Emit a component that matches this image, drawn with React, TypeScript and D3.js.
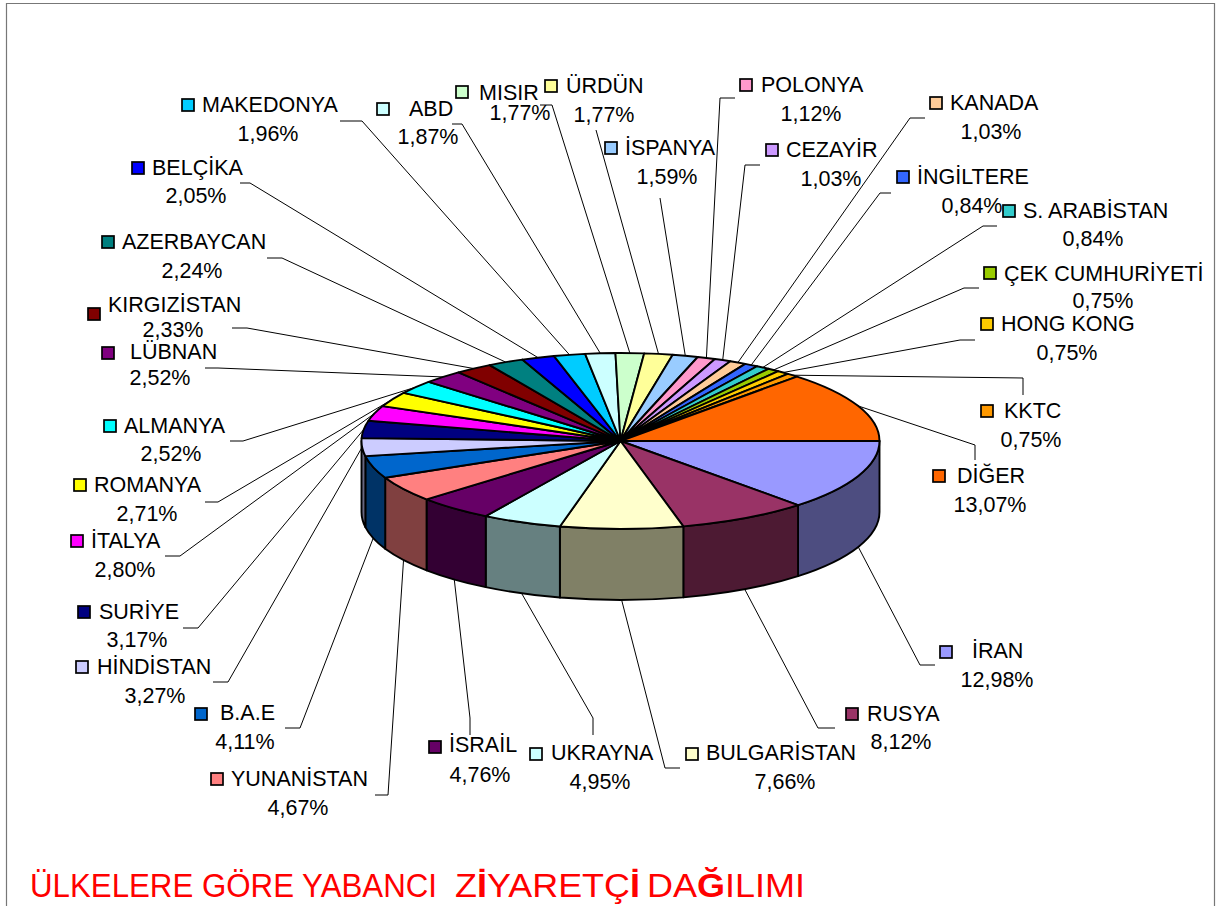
import React, { useEffect, useRef } from "react";
import * as d3 from "d3";

const countries = [
  "İRAN", "RUSYA", "BULGARİSTAN", "UKRAYNA", "İSRAİL", "YUNANİSTAN", "B.A.E", "HİNDİSTAN",
  "SURİYE", "İTALYA", "ROMANYA", "ALMANYA", "LÜBNAN", "KIRGIZİSTAN", "AZERBAYCAN", "BELÇİKA",
  "MAKEDONYA", "ABD", "MISIR", "ÜRDÜN", "İSPANYA", "POLONYA", "CEZAYİR", "KANADA",
  "İNGİLTERE", "S. ARABİSTAN", "ÇEK CUMHURİYETİ", "HONG KONG", "KKTC", "DİĞER",
];

const shares = [
  12.98, 8.12, 7.66, 4.95, 4.76, 4.67, 4.11, 3.27,
  3.17, 2.8, 2.71, 2.52, 2.52, 2.33, 2.24, 2.05,
  1.96, 1.87, 1.77, 1.77, 1.59, 1.12, 1.03, 1.03,
  0.84, 0.84, 0.75, 0.75, 0.75, 13.07,
];

const sliceColors = [
  "#9999FF", "#993366", "#FFFFCC", "#CCFFFF", "#660066", "#FF8080", "#0066CC", "#CCCCFF",
  "#000080", "#FF00FF", "#FFFF00", "#00FFFF", "#800080", "#800000", "#008080", "#0000FF",
  "#00CCFF", "#CCFFFF", "#CCFFCC", "#FFFF99", "#99CCFF", "#FF99CC", "#CC99FF", "#FFCC99",
  "#3366FF", "#33CCCC", "#99CC00", "#FFCC00", "#FF9900", "#FF6600",
];

// label placement, same order as countries:
// [swatch x, swatch y, name x, name baseline, value center x, value baseline, elbow x, elbow y, stub x, stub y]
const labelLayout = [
  [946, 652, 972, 658, 997, 687, 920, 665, 935, 665],
  [852, 714, 867, 721, 901, 749, 818, 728, 835, 728],
  [692, 754, 706, 760, 785, 789, 665, 768, 680, 768],
  [536, 754, 551, 760, 600, 789, 593, 718, 593, 735],
  [435, 747, 449, 752, 480, 782, 470, 718, 470, 735],
  [217, 779, 231, 786, 298, 815, 388, 795, 375, 795],
  [201, 714, 220, 720, 245, 749, 300, 728, 285, 728],
  [82, 667, 97, 674, 155, 703, 228, 682, 213, 682],
  [84, 612, 99, 619, 137, 647, 198, 628, 183, 628],
  [77, 541, 91, 548, 125, 577, 180, 556, 165, 556],
  [80, 485, 94, 492, 147, 521, 218, 502, 205, 502],
  [110, 426, 124, 433, 171, 461, 243, 441, 230, 441],
  [108, 353, 130, 359, 160, 385, 218, 368, 205, 368],
  [94, 314, 108, 312, 173, 337, 247, 328, 232, 328],
  [108, 242, 122, 249, 192, 278, 282, 258, 267, 258],
  [138, 168, 152, 175, 196, 203, 250, 183, 240, 183],
  [188, 105, 202, 112, 268, 141, 362, 121, 340, 121],
  [383, 109, 409, 116, 428, 144, 462, 124, 452, 124],
  [462, 92, 479, 100, 520, 120, 552, 105, 540, 105],
  [551, 86, 566, 93, 604, 122, 596, 130, 596, 130],
  [611, 148, 625, 155, 667, 184, 660, 198, 660, 198],
  [746, 85, 761, 92, 811, 121, 720, 98, 735, 98],
  [772, 150, 786, 157, 831, 186, 745, 165, 760, 165],
  [936, 103, 950, 110, 991, 139, 910, 118, 925, 118],
  [903, 177, 917, 184, 972, 213, 880, 193, 891, 193],
  [1009, 211, 1023, 218, 1093, 246, 983, 226, 997, 226],
  [990, 273, 1004, 281, 1103, 308, 964, 288, 979, 288],
  [987, 324, 1001, 331, 1067, 360, 960, 340, 975, 340],
  [987, 411, 1004, 418, 1031, 447, 1023, 378, 1023, 395],
  [939, 476, 957, 483, 990, 512, 975, 445, 975, 460],
];

// title words, each fitted to its own span; bold marks the letters the reference draws heavier
const titleWords = [
  { parts: [["ÜLKELERE GÖRE YABANCI", false]], x: 30, length: 407 },
  { parts: [["Z", false], ["İ", true], ["YARETÇ", false], ["İ", true]], x: 455, length: 185 },
  { parts: [["DA", false], ["Ğ", true], ["ILIMI", false]], x: 647, length: 158 },
];

const width = 1216;
const height = 906;
const cx = 620.5;
const cy = 441;
const rx = 259;
const ry = 88;
const depth = 71;
const labelFont = "'Liberation Sans', Arial, sans-serif";

const App: React.FC = () => {
  const svgRef = useRef<SVGSVGElement>(null);

  useEffect(() => {
    if (!svgRef.current) return;
    const svg = d3.select(svgRef.current);
    svg.selectAll("*").remove();

    // Frame
    svg
      .append("path")
      .attr("d", `M6.5,${height}V3.5H1214.5V${height}`)
      .attr("fill", "none")
      .attr("stroke", "#777")
      .attr("stroke-width", 1.2);

    // d3 angles run clockwise from north, the chart starts at 3 o'clock
    const pie = d3
      .pie<number>()
      .sort(null)
      .startAngle(Math.PI / 2)
      .endAngle(Math.PI / 2 + 2 * Math.PI);
    const slices = pie(shares);

    const px = (a: number) => cx + rx * Math.sin(a);
    const py = (a: number, dy = 0) => cy + dy - ry * Math.cos(a);

    // Side wall, only the part facing the viewer
    const frontStart = Math.PI / 2;
    const frontEnd = (3 * Math.PI) / 2;
    const wallPath = (a0: number, a1: number) =>
      `M${px(a0)},${py(a0)}` +
      `A${rx},${ry} 0 0 1 ${px(a1)},${py(a1)}` +
      `L${px(a1)},${py(a1, depth)}` +
      `A${rx},${ry} 0 0 0 ${px(a0)},${py(a0, depth)}Z`;

    const pieGroup = svg.append("g");
    pieGroup
      .selectAll("path.wall")
      .data(slices.filter((d) => d.startAngle < frontEnd))
      .join("path")
      .attr("class", "wall")
      .attr("d", (d) => wallPath(Math.max(d.startAngle, frontStart), Math.min(d.endAngle, frontEnd)))
      .attr("fill", (d) => {
        const c = d3.rgb(sliceColors[d.index]);
        return d3.rgb(c.r / 2, c.g / 2, c.b / 2).formatHex();
      })
      .attr("stroke", "#000")
      .attr("stroke-width", 1.9)
      .attr("stroke-linejoin", "round");

    pieGroup
      .selectAll("path.top")
      .data(slices)
      .join("path")
      .attr("class", "top")
      .attr("d", (d) => {
        const large = d.endAngle - d.startAngle > Math.PI ? 1 : 0;
        return (
          `M${cx},${cy}L${px(d.startAngle)},${py(d.startAngle)}` +
          `A${rx},${ry} 0 ${large} 1 ${px(d.endAngle)},${py(d.endAngle)}Z`
        );
      })
      .attr("fill", (d) => sliceColors[d.index])
      .attr("stroke", "#000")
      .attr("stroke-width", 1.9)
      .attr("stroke-linejoin", "round");

    // Leader lines start on the rim, or at the wall's foot for front slices
    const leader = d3.line();
    const leaders = svg.append("g");
    slices.forEach((d) => {
      const [, , , , , , ex, ey, sx, sy] = labelLayout[d.index];
      const mid = (d.startAngle + d.endAngle) / 2;
      const isFront = mid > frontStart && mid < frontEnd && Math.sin(mid) > -0.985;
      const start: [number, number] = [px(mid), py(mid, isFront ? depth : 0)];
      leaders
        .append("path")
        .attr("d", leader([start, [ex, ey], [sx, sy]]))
        .attr("fill", "none")
        .attr("stroke", "#000")
        .attr("stroke-width", 1);
    });

    // Labels
    const labels = svg
      .append("g")
      .attr("font-family", labelFont)
      .attr("font-size", 21.5)
      .attr("fill", "#000");
    countries.forEach((name, i) => {
      const [kx, ky, nx, ny, vx, vy] = labelLayout[i];
      labels
        .append("rect")
        .attr("x", kx - 6)
        .attr("y", ky - 6)
        .attr("width", 12)
        .attr("height", 12)
        .attr("fill", sliceColors[i])
        .attr("stroke", "#000")
        .attr("stroke-width", 1.7);
      labels.append("text").attr("x", nx).attr("y", ny).text(name);
      labels
        .append("text")
        .attr("x", vx)
        .attr("y", vy)
        .attr("text-anchor", "middle")
        .text(`${shares[i].toFixed(2).replace(".", ",")}%`);
    });

    // Title
    const title = svg
      .append("g")
      .attr("font-family", labelFont)
      .attr("font-size", 34)
      .attr("fill", "#FF0000");
    titleWords.forEach((w) => {
      const t = title
        .append("text")
        .attr("x", w.x)
        .attr("y", 897)
        .attr("textLength", w.length)
        .attr("lengthAdjust", "spacingAndGlyphs");
      w.parts.forEach(([text, bold]) => {
        t.append("tspan")
          .attr("font-weight", bold ? "bold" : "normal")
          .text(text as string);
      });
    });
  }, []);

  return (
    <svg
      ref={svgRef}
      width={width}
      height={height}
      style={{ position: "absolute", left: 0, top: 0, display: "block", background: "#fff" }}
    />
  );
};

export default App;
